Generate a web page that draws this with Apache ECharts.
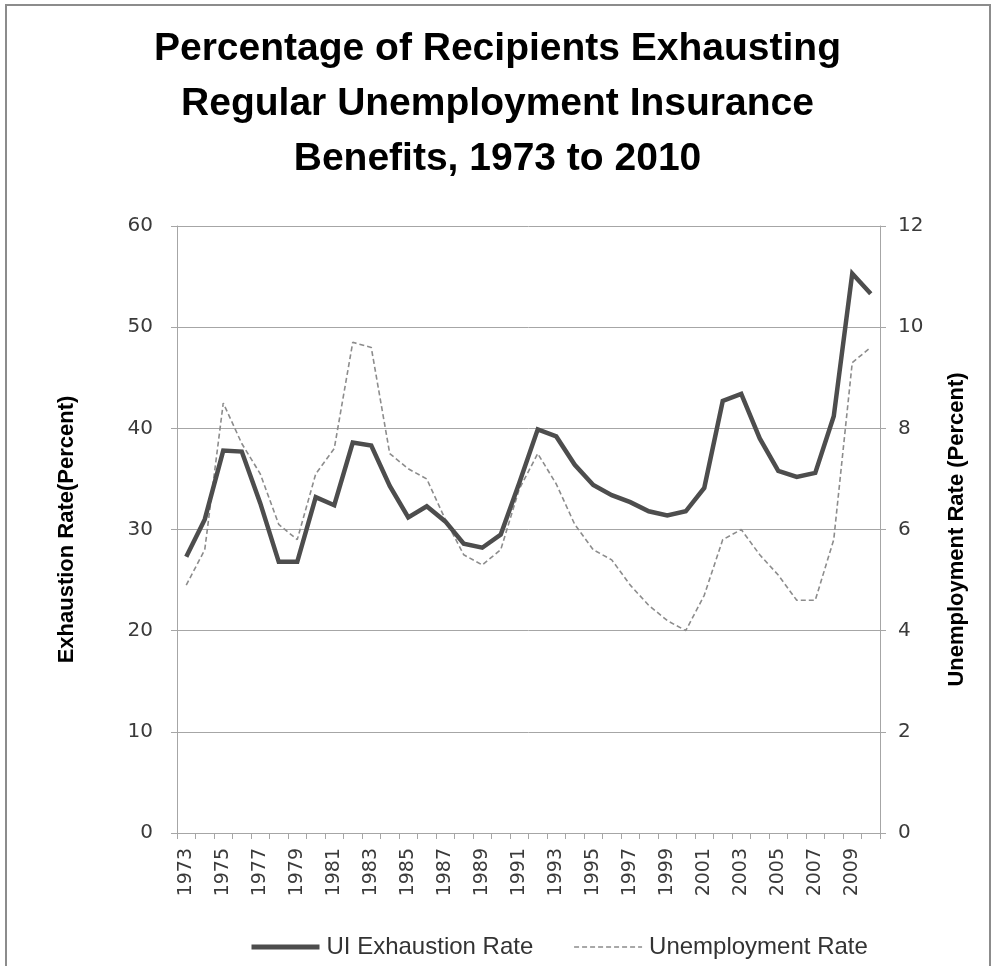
<!DOCTYPE html>
<html>
<head>
<meta charset="utf-8">
<script src="https://cdn.jsdelivr.net/npm/echarts@6/dist/echarts.min.js"></script>
<style>
  html, body { margin: 0; padding: 0; background: #ffffff; }
  #chart { width: 995px; height: 966px; }
</style>
</head>
<body>
<div id="chart"></div>
<script>
// Years covered by the series
const years = [
  '1973','1974','1975','1976','1977','1978','1979','1980','1981','1982',
  '1983','1984','1985','1986','1987','1988','1989','1990','1991','1992',
  '1993','1994','1995','1996','1997','1998','1999','2000','2001','2002',
  '2003','2004','2005','2006','2007','2008','2009','2010'
];

// Share of regular UI recipients exhausting benefits (percent, left axis)
const exhaustionRate = [
  27.3, 31.0, 37.8, 37.7, 32.6, 26.8, 26.8, 33.2, 32.4, 38.6,
  38.3, 34.3, 31.2, 32.3, 30.8, 28.6, 28.2, 29.5, 34.6, 39.9,
  39.2, 36.4, 34.4, 33.4, 32.7, 31.8, 31.4, 31.8, 34.1, 42.7,
  43.4, 39.0, 35.8, 35.2, 35.6, 41.2, 55.3, 53.3
];

// Civilian unemployment rate (percent, right axis)
const unemploymentRate = [
  4.9, 5.6, 8.5, 7.7, 7.1, 6.1, 5.8, 7.1, 7.6, 9.7,
  9.6, 7.5, 7.2, 7.0, 6.2, 5.5, 5.3, 5.6, 6.8, 7.5,
  6.9, 6.1, 5.6, 5.4, 4.9, 4.5, 4.2, 4.0, 4.7, 5.8,
  6.0, 5.5, 5.1, 4.6, 4.6, 5.8, 9.3, 9.6
];

const chart = echarts.init(document.getElementById('chart'), null, { renderer: 'canvas' });

const gridColor = '#a6a6a6';
const tickText = '#3a3a3a';
const tickFont = '"DejaVu Sans", sans-serif';
const headFont = '"Liberation Sans", Arial, sans-serif';

chart.setOption({
  backgroundColor: '#ffffff',
  animation: false,
  graphic: [{
    type: 'rect',
    shape: { x: 6, y: 5, width: 984, height: 980 },
    style: { fill: 'none', stroke: '#8c8c8c', lineWidth: 2 },
    silent: true
  }],
  title: {
    text: 'Percentage of Recipients Exhausting\nRegular Unemployment Insurance\nBenefits, 1973 to 2010',
    left: 'center',
    top: 17,
    padding: [5, 0, 5, 15],
    textStyle: {
      fontFamily: headFont,
      fontWeight: 'bold',
      fontSize: 39,
      lineHeight: 55,
      color: '#000000'
    }
  },
  legend: {
    bottom: 2,
    left: 244,
    itemWidth: 68,
    itemHeight: 14,
    itemGap: 40,
    itemStyle: { opacity: 0 },
    textStyle: { fontFamily: headFont, fontSize: 24, color: '#333333', padding: [0, 0, 0, 2] },
    data: [
      { name: 'UI Exhaustion Rate', lineStyle: { width: 5, color: '#4d4d4d' } },
      { name: 'Unemployment Rate', lineStyle: { width: 1.6, color: '#8c8c8c', type: [5, 3] } }
    ]
  },
  grid: { left: 177, right: 115, top: 226, bottom: 133, containLabel: false },
  xAxis: {
    type: 'category',
    data: years,
    boundaryGap: true,
    axisLine: { lineStyle: { color: gridColor, width: 1 } },
    axisTick: { show: true, interval: 0, length: 6, lineStyle: { color: gridColor } },
    axisLabel: {
      interval: 1,
      rotate: 90,
      margin: 15,
      fontFamily: tickFont,
      fontSize: 19,
      color: tickText
    },
    splitLine: { show: false }
  },
  yAxis: [
    {
      type: 'value',
      min: 0, max: 60, interval: 10,
      name: 'Exhaustion Rate(Percent)',
      nameLocation: 'middle',
      nameRotate: 90,
      nameGap: 99,
      nameTextStyle: { fontFamily: headFont, fontWeight: 'bold', fontSize: 22, color: '#000000' },
      axisLine: { show: true, lineStyle: { color: gridColor } },
      axisTick: { show: true, length: 6, lineStyle: { color: gridColor } },
      axisLabel: { margin: 24, fontFamily: tickFont, fontSize: 20, color: tickText },
      splitLine: { show: true, lineStyle: { color: gridColor, width: 1 } }
    },
    {
      type: 'value',
      min: 0, max: 12, interval: 2,
      position: 'right',
      name: 'Unemployment Rate (Percent)',
      nameLocation: 'middle',
      nameRotate: 90,
      nameGap: 66,
      nameTextStyle: { fontFamily: headFont, fontWeight: 'bold', fontSize: 22, color: '#000000' },
      axisLine: { show: true, lineStyle: { color: gridColor } },
      axisTick: { show: true, length: 6, lineStyle: { color: gridColor } },
      axisLabel: { margin: 18, fontFamily: tickFont, fontSize: 20, color: tickText },
      splitLine: { show: false }
    }
  ],
  series: [
    {
      name: 'UI Exhaustion Rate',
      type: 'line',
      yAxisIndex: 0,
      data: exhaustionRate,
      symbol: 'none',
      color: '#4d4d4d',
      lineStyle: { color: '#4d4d4d', width: 4.5, join: 'miter' },
      z: 3
    },
    {
      name: 'Unemployment Rate',
      type: 'line',
      yAxisIndex: 1,
      data: unemploymentRate,
      symbol: 'none',
      color: '#8c8c8c',
      lineStyle: { color: '#8c8c8c', width: 1.6, type: [5, 3] },
      z: 2
    }
  ]
});
</script>
</body>
</html>
